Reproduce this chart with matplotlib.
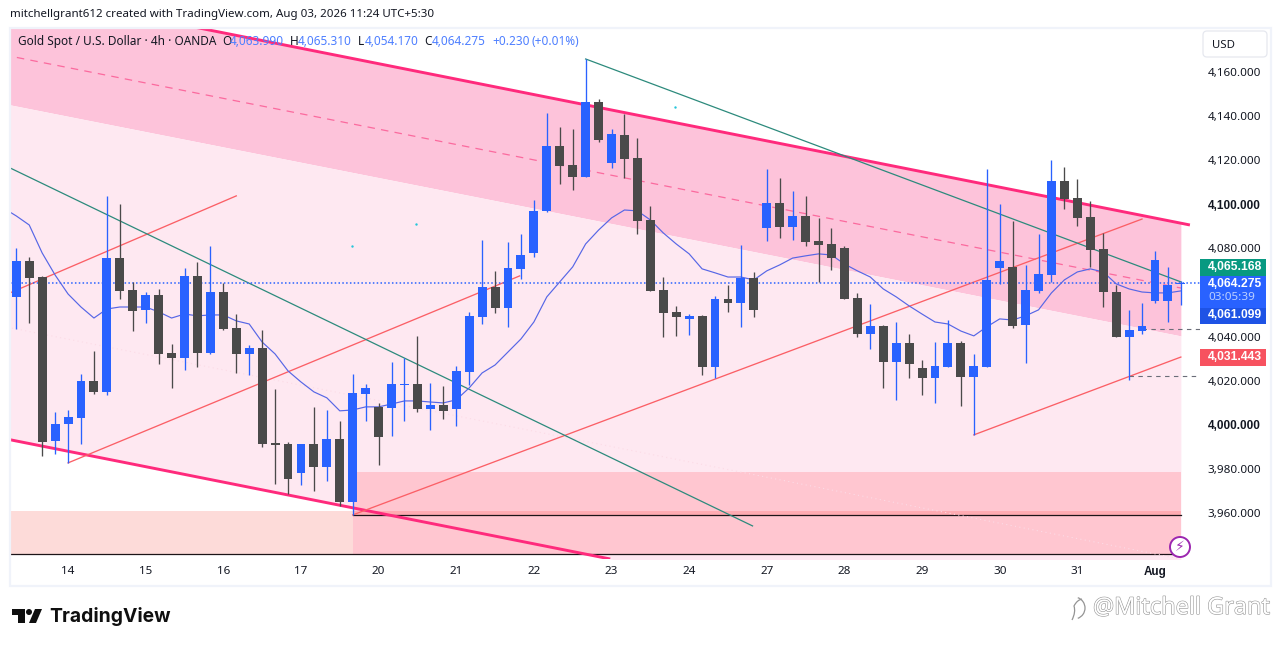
import matplotlib
matplotlib.use('Agg')
import matplotlib.pyplot as plt
import matplotlib.patches as mpatches
import matplotlib.patheffects as pe
from matplotlib.path import Path
from matplotlib.transforms import Affine2D
import numpy as np

plt.rcParams['font.family'] = ['Noto Sans', 'DejaVu Sans']

# 4h candles
opens = [4058.0, 4074.3, 4067.0, 3992.7, 4000.4, 4003.1, 4019.9, 4014.9, 4075.6, 4061.1,
         4052.1, 4058.9, 4032.6, 4030.3, 4067.5, 4032.6, 4060.2, 4043.9, 4032.1, 4034.8,
         3991.7, 3991.3, 3978.1, 3991.3, 3980.9, 3993.6, 3965.0, 4014.0, 4008.1, 4007.6,
         4018.0, 4018.5, 4007.2, 4009.0, 4007.2, 4023.9, 4048.9, 4062.5, 4053.0, 4070.7,
         4077.9, 4097.0, 4126.4, 4117.8, 4112.4, 4146.4, 4118.7, 4131.4, 4121.0, 4092.9,
         4061.1, 4051.2, 4048.0, 4049.4, 4026.2, 4057.1, 4055.2, 4066.6, 4089.2, 4100.6,
         4089.7, 4094.7, 4083.4, 4082.0, 4080.2, 4057.5, 4041.2, 4044.8, 4028.5, 4037.1,
         4025.8, 4021.2, 4026.2, 4037.1, 4021.7, 4026.2, 4071.1, 4071.6, 4045.3, 4060.7,
         4067.9, 4110.6, 4102.9, 4094.2, 4079.7, 4060.2, 4039.8, 4042.5, 4056.1, 4056.1,
         4063.99]
highs = [4080.2, 4076.1, 4067.5, 4005.8, 4006.7, 4023.0, 4033.5, 4103.8, 4100.1, 4064.8,
         4060.2, 4061.6, 4036.6, 4071.1, 4073.8, 4081.1, 4064.3, 4050.2, 4036.2, 4043.0,
         4016.2, 3992.2, 3991.3, 4008.1, 4006.7, 4001.7, 4023.0, 4018.5, 4009.9, 4028.5,
         4030.3, 4040.3, 4019.0, 4017.6, 4026.7, 4051.2, 4083.8, 4069.8, 4082.9, 4086.5,
         4102.0, 4141.4, 4135.1, 4134.1, 4165.9, 4147.8, 4134.1, 4140.9, 4130.1, 4099.2,
         4067.0, 4053.9, 4050.2, 4049.8, 4058.4, 4063.4, 4081.5, 4069.3, 4116.0, 4111.9,
         4106.0, 4103.8, 4093.8, 4089.3, 4081.1, 4059.8, 4054.8, 4045.3, 4046.6, 4041.2,
         4029.4, 4037.5, 4047.5, 4038.0, 4032.1, 4116.0, 4100.1, 4092.4, 4072.5, 4086.5,
         4120.1, 4116.9, 4111.5, 4101.5, 4087.0, 4063.4, 4052.1, 4055.2, 4078.8, 4071.6,
         4065.31]
lows = [4043.4, 4046.2, 3985.9, 3986.8, 3982.7, 3991.3, 4014.0, 4013.5, 4057.1, 4042.5,
        4046.2, 4027.6, 4016.7, 4024.9, 4026.2, 4032.1, 4043.0, 4023.5, 4022.6, 3989.9,
        3973.2, 3968.6, 3972.7, 3970.0, 3974.5, 3963.2, 3959.1, 4001.7, 3981.8, 3994.9,
        4001.7, 4005.8, 3997.6, 4002.6, 3999.5, 4018.0, 4045.7, 4050.7, 4044.4, 4066.1,
        4076.1, 4096.5, 4109.2, 4106.5, 4112.4, 4128.3, 4116.5, 4111.9, 4086.5, 4060.7,
        4039.8, 4040.3, 4040.7, 4022.6, 4021.2, 4051.2, 4044.4, 4048.9, 4083.4, 4084.7,
        4083.8, 4081.1, 4064.8, 4070.2, 4057.1, 4039.8, 4034.4, 4016.7, 4011.3, 4021.2,
        4013.5, 4009.9, 4026.2, 4008.5, 3995.4, 4026.2, 4063.9, 4043.9, 4028.0, 4059.8,
        4064.8, 4097.9, 4090.2, 4071.6, 4053.4, 4039.8, 4020.3, 4041.2, 4055.2, 4046.6,
        4054.17]
closes = [4074.3, 4066.6, 3992.2, 4000.4, 4003.5, 4019.9, 4014.9, 4075.6, 4060.7, 4051.6,
          4058.9, 4032.1, 4030.3, 4067.5, 4032.6, 4060.2, 4043.4, 4032.1, 4034.8, 3991.3,
          3990.8, 3975.4, 3991.3, 3980.9, 3993.6, 3965.0, 4014.4, 4016.7, 3994.5, 4018.5,
          4018.5, 4007.2, 4009.0, 4006.3, 4024.4, 4049.4, 4062.5, 4053.0, 4071.1, 4077.0,
          4097.0, 4126.4, 4117.4, 4112.4, 4146.4, 4129.2, 4131.9, 4120.5, 4092.4, 4060.7,
          4050.7, 4048.9, 4049.4, 4026.2, 4057.1, 4055.2, 4066.6, 4052.1, 4100.6, 4089.7,
          4094.7, 4082.9, 4081.5, 4075.6, 4057.1, 4041.2, 4044.8, 4028.5, 4037.1, 4027.6,
          4021.2, 4026.7, 4037.1, 4021.7, 4026.7, 4065.7, 4074.3, 4044.8, 4061.1, 4068.4,
          4110.6, 4102.4, 4093.8, 4079.3, 4060.2, 4039.8, 4043.0, 4044.8, 4074.7, 4063.4,
          4064.275]

# moving average, starts one bar before the first candle
ma = [4098.3, 4094.7, 4090.6, 4077.9, 4067.9, 4059.3, 4053.4, 4048.4, 4052.5, 4053.4,
      4053.4, 4053.4, 4051.2, 4048.4, 4050.2, 4049.4, 4049.8, 4049.8, 4047.1, 4045.7,
      4037.5, 4032.1, 4024.4, 4019.4, 4014.9, 4012.2, 4006.3, 4006.7, 4008.1, 4008.1,
      4009.4, 4010.8, 4010.8, 4010.3, 4009.9, 4011.3, 4016.7, 4023.5, 4027.1, 4033.0,
      4038.9, 4046.6, 4058.0, 4064.8, 4071.6, 4082.0, 4088.3, 4093.8, 4097.4, 4097.0,
      4092.9, 4087.0, 4082.0, 4077.5, 4070.7, 4068.9, 4067.0, 4067.0, 4065.7, 4069.8,
      4072.5, 4075.6, 4076.6, 4077.5, 4077.0, 4072.9, 4069.8, 4067.0, 4061.6, 4058.0,
      4053.9, 4050.2, 4046.6, 4045.7, 4042.5, 4040.3, 4044.4, 4048.0, 4047.5, 4049.4,
      4052.1, 4059.8, 4065.7, 4069.3, 4070.7, 4069.3, 4063.9, 4061.6, 4060.2, 4059.8,
      4059.8, 4060.7]

tick_bars = [4, 10, 16, 22, 28, 34, 40, 46, 52, 58, 64, 70, 76, 82, 88]
tick_days = ['14', '15', '16', '17', '20', '21', '22', '23', '24', '27', '28', '29', '30', '31', 'Aug']
price_ticks = [3960, 3980, 4000, 4020, 4040, 4080, 4100, 4120, 4140, 4160]

# drawings: (bar, price) pairs
channel_bars = [-1, 90]
channel_top = [4197.6, 4091.4]
channel_edge = [4145.7, 4040.3]
channel_mid = [4167.8, 4062.0]
channel_faint = [4044.6, 3939.1]
channel_low = [3993.8, 3887.7]
top_line_bars = [-1, 90.7]
top_line = [4197.6, 4090.6]
low_line_bars = [-1, 45.9]
low_line = [3993.8, 3939.1]
red_lines = [([-0.49, 17.0], [4059.8, 4103.8]),
             ([4.0, 38.9], [3982.7, 4067.5]),
             ([26.0, 87.0], [3959.1, 4093.3]),
             ([74.0, 90.0], [3995.4, 4030.7])]
teal_lines = [([-0.49, 56.9], [4116.5, 3954.1]),
              ([44.0, 90.0], [4165.9, 4064.8])]
dot_bars = [25.94, 30.9, 50.9]
dot_prices = [4081.1, 4091.0, 4144.1]
last_price = 4064.275

W, H = 1281, 647
fig = plt.figure(figsize=(W / 100, H / 100), dpi=100, facecolor='white')
px = Affine2D().scale(1, -1).translate(0, H)   # top-left pixel coords

# pane is x 10-1200, y 28-559
ax = fig.add_axes([10 / W, 1 - 559 / H, 1190 / W, 531 / H])
ax.set_xlim(-0.487, 91.48)
ax.set_ylim(3939.1, 4179.95)
for s in ax.spines.values():
    s.set_visible(False)
ax.set_facecolor('none')

bars = np.arange(len(opens))
opens, highs, lows, closes = map(np.array, (opens, highs, lows, closes))

# channel
ax.fill_between(channel_bars, channel_top, channel_edge, color='#fdc3da', lw=0, zorder=1)
ax.fill_between(channel_bars, channel_edge, channel_low, color='#fee8f1', lw=0, zorder=1)

# zones
ax.fill_between([-1, 26], 3941.4, 3960.9, color='#fddbd9', lw=0, zorder=1.2)
ax.fill_between([26, 90], 3941.4, 3978.6, color='#ffc6d0', lw=0, zorder=1.2)
ax.fill_between([26, 90], 3959.1, 3960.9, color='#ffabb2', lw=0, zorder=1.3)
ax.plot([26, 90], [3959.1, 3959.1], color='#1c1418', lw=0.9, zorder=1.5)
ax.plot([-1, 90], [3941.4, 3941.4], color='#1c1418', lw=0.9, zorder=1.5)

ax.plot(channel_bars, channel_faint, color='#fcdbe6', lw=0.8, ls=(0, (1, 3)), zorder=1.6)
ax.plot(channel_bars, channel_mid, color='#fb6a9e', lw=0.9, ls=(0, (6, 5)), zorder=1.6)
ax.plot(top_line_bars, top_line, color='#ff2a7c', lw=2.1, zorder=2, solid_capstyle='butt')
ax.plot(low_line_bars, low_line, color='#ff2a7c', lw=2.1, zorder=2, solid_capstyle='butt')

for xs, ys in red_lines:
    ax.plot(xs, ys, color='#fb5f66', lw=0.95, zorder=2.2)
for xs, ys in teal_lines:
    ax.plot(xs, ys, color='#2c8a7c', lw=0.9, zorder=2.2)

ax.scatter(dot_bars, dot_prices, s=3, color='#26c6da', lw=0, zorder=2.3)
ax.axhline(last_price, color='#2962ff', lw=1.1, ls=(0, (1, 1.5)), zorder=2.4)
ax.plot([87, 91.48], [4043.4, 4043.4], color='#6a6d78', lw=0.8, ls=(0, (4, 4)), zorder=2.4)
ax.plot([86, 91.48], [4022.1, 4022.1], color='#6a6d78', lw=0.8, ls=(0, (4, 4)), zorder=2.4)

ax.plot(np.arange(-1, 91), ma, color='#5666e6', lw=0.85, zorder=2.6)

# candles
colors = np.where(closes >= opens, '#2962ff', '#4a4a4a')
ax.vlines(bars, lows, highs, colors=colors, lw=0.95, zorder=3)
body_low = np.minimum(opens, closes)
body_h = np.maximum(np.abs(closes - opens), 0.5)
ax.bar(bars, body_h, bottom=body_low, width=0.69, color=colors, lw=0, zorder=3.2)

# axes labels
ax.yaxis.tick_right()
ax.set_yticks(price_ticks)
ax.set_yticklabels([f'{p:,.3f}' for p in price_ticks])
ax.set_xticks(tick_bars)
ax.set_xticklabels(tick_days)
ax.tick_params(axis='both', length=0, labelcolor='#131722', labelsize=8.4)
ax.tick_params(axis='y', pad=5.6)
ax.tick_params(axis='x', pad=5.2)
for lab, p in zip(ax.get_yticklabels(), price_ticks):
    if p in (4000, 4100):
        lab.set_fontfamily('Liberation Sans')
        lab.set_fontweight('bold')
        lab.set_fontsize(8.5)
aug = ax.get_xticklabels()[-1]
aug.set_fontfamily('Liberation Sans')
aug.set_fontweight('bold')

# frame
fig.add_artist(mpatches.Rectangle((10, 28), 1261, 558, transform=px, fill=False, ec='#f0f3fa', lw=1.6))

# header + legend
fig.text(10, 15, 'mitchellgrant612 created with TradingView.com, Aug 03, 2026 11:24 UTC+5:30',
         transform=px, fontsize=8.3, color='#131722', va='center', ha='left')
fig.text(18, 41.5, 'Gold Spot / U.S. Dollar · 4h · OANDA', transform=px, fontsize=8.5,
         color='#131722', va='center', ha='left')
legend_parts = [(222, 'O', '#131722'), (230, '4,063.990', '#4d7fff'), (290, 'H', '#131722'),
                (298, '4,065.310', '#4d7fff'), (358, 'L', '#131722'), (365, '4,054.170', '#4d7fff'),
                (424, 'C', '#131722'), (432, '4,064.275', '#4d7fff'), (492, '+0.230', '#4d7fff'),
                (532, '(+0.01%)', '#4d7fff')]
for x, t, c in legend_parts:
    fig.text(x, 41.5, t, transform=px, fontsize=8.5, color=c, va='center', ha='left')

# USD button
fig.add_artist(mpatches.FancyBboxPatch((1207, 35), 56, 18, boxstyle='round,pad=4,rounding_size=4',
                                       transform=px, fc='white', ec='#e6e8ef', lw=0.9))
fig.text(1212, 45, 'USD', transform=px, fontsize=8.2, color='#131722', va='center', ha='left')

# price labels
fig.add_artist(mpatches.Rectangle((1200, 259), 66, 17, transform=px, fc='#089981', lw=0))
fig.add_artist(mpatches.Rectangle((1200, 276), 66, 32, transform=px, fc='#2962ff', lw=0))
fig.add_artist(mpatches.Rectangle((1200, 308), 66, 16, transform=px, fc='#1e53e5', lw=0))
fig.add_artist(mpatches.Rectangle((1200, 349), 66, 17, transform=px, fc='#f7525f', lw=0))
label_text = [(267.5, '4,065.168', 'white', 'bold'), (284, '4,064.275', 'white', 'bold'),
              (297.5, '03:05:39', '#bcd0ff', 'normal'), (315.5, '4,061.099', 'white', 'bold'),
              (357.5, '4,031.443', 'white', 'bold')]
for y, t, c, w in label_text:
    fam = 'Liberation Sans' if w == 'bold' else 'Noto Sans'
    size = 8.7 if w == 'bold' else 8.4
    fig.text(1208, y, t, transform=px, fontsize=size, color=c, fontweight=w, family=fam, va='center', ha='left')

# bolt badge
fig.add_artist(mpatches.Circle((1180, 547), 10, transform=px, fc='white', ec='#9c27b0', lw=1.4, zorder=10))
fig.text(1180, 547, '\u26a1', transform=px, fontsize=10, color='#9c27b0', va='center', ha='center',
         family='DejaVu Sans', zorder=11)

# TradingView logo
logo = '#0f0f0f'
fig.add_artist(mpatches.Polygon([(12, 609), (25, 609), (25, 623), (18, 623), (18, 615), (12, 615)],
                                transform=px, fc=logo, lw=0))
fig.add_artist(mpatches.Circle((29, 612), 3, transform=px, fc=logo, lw=0))
fig.add_artist(mpatches.Polygon([(35, 609), (42, 609), (36, 623), (29, 623)], transform=px, fc=logo, lw=0))
fig.text(49, 617, 'TradingView', transform=px, fontsize=13.9, fontweight='bold', family='Inter',
         color=logo, va='center', ha='left')

# watermark
fig.text(1093, 608, '@Mitchell Grant', transform=px, fontsize=16.9, color='white', va='center', ha='left',
         path_effects=[pe.withStroke(linewidth=0.8, foreground='#949494')])
mark = Path([(1072, 620), (1076, 612), (1074, 606), (1077, 600), (1082, 599)],
            [Path.MOVETO, Path.CURVE3, Path.CURVE3, Path.CURVE3, Path.CURVE3])
fig.add_artist(mpatches.PathPatch(mark, transform=px, fill=False, ec='#949494', lw=0.9))
fig.add_artist(mpatches.Arc((1074, 608), 22, 22, angle=0, theta1=-70, theta2=70, transform=px, ec='#949494', lw=0.9))

fig.savefig('out.png', dpi=100)
